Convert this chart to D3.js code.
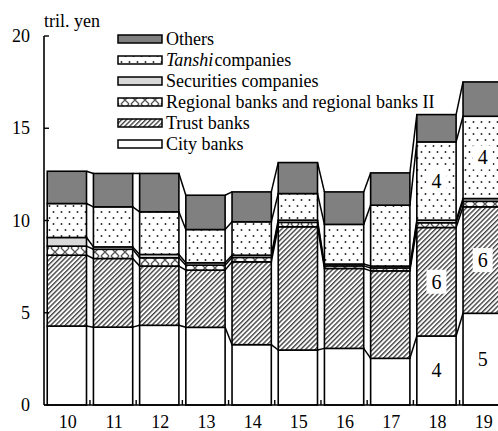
<!DOCTYPE html>
<html>
<head>
<meta charset="utf-8">
<script src="https://cdn.jsdelivr.net/npm/d3@7"></script>
<style>
  html, body { margin: 0; padding: 0; background: #fff; }
  svg { display: block; }
  svg text { font-family: "Liberation Serif", "Tinos", "DejaVu Serif", serif; }
</style>
</head>
<body>
<svg id="chart" width="498" height="431"></svg>
<script>
// fiscal years
const categories = ["10", "11", "12", "13", "14", "15", "16", "17", "18", "19"];

// tril. yen
const cityBanks = [4.28, 4.22, 4.32, 4.21, 3.27, 2.98, 3.07, 2.53, 3.74, 4.97];
const trustBanks = [3.84, 3.72, 3.21, 3.10, 4.49, 6.68, 4.33, 4.74, 5.88, 5.77];
const regionalBanks = [0.49, 0.50, 0.45, 0.27, 0.24, 0.24, 0.14, 0.16, 0.26, 0.30];
const securities = [0.47, 0.13, 0.18, 0.13, 0.12, 0.12, 0.10, 0.10, 0.14, 0.15];
const tanshi = [1.84, 2.17, 2.31, 1.80, 1.81, 1.44, 2.15, 3.30, 4.24, 4.46];
const others = [1.75, 1.81, 2.08, 1.86, 1.62, 1.68, 1.76, 1.75, 1.48, 1.86];

const yTicks = [0, 5, 10, 15, 20];

// numbers printed inside some bars
const barNotes = [
  { cat: "18", key: "city", text: "4" },
  { cat: "18", key: "trust", text: "6" },
  { cat: "18", key: "tanshi", text: "4" },
  { cat: "19", key: "city", text: "5" },
  { cat: "19", key: "trust", text: "6" },
  { cat: "19", key: "tanshi", text: "4" },
];

const keys = ["city", "trust", "regional", "securities", "tanshi", "others"];
const series = { city: cityBanks, trust: trustBanks, regional: regionalBanks,
  securities: securities, tanshi: tanshi, others: others };

const rows = categories.map((c, i) => {
  const r = { cat: c };
  keys.forEach((k) => (r[k] = series[k][i]));
  return r;
});

const FILLS = {
  city: "#ffffff",
  trust: "url(#hatch)",
  regional: "url(#cross)",
  securities: "#d9d9d9",
  tanshi: "url(#dots)",
  others: "#808080",
};

const FONT = "'Liberation Serif', Tinos, 'DejaVu Serif', serif";

const svg = d3.select("#chart");
const defs = svg.append("defs");

// Diagonal hatch
const hatch = defs.append("pattern")
  .attr("id", "hatch")
  .attr("patternUnits", "userSpaceOnUse")
  .attr("width", 3.4).attr("height", 3.4)
  .attr("patternTransform", "rotate(45)");
hatch.append("rect").attr("width", 3.4).attr("height", 3.4).attr("fill", "#fff");
hatch.append("line").attr("x1", 0.7).attr("y1", 0).attr("x2", 0.7).attr("y2", 3.4)
  .attr("stroke", "#333").attr("stroke-width", 1.3);

// Crosses
const cross = defs.append("pattern")
  .attr("id", "cross")
  .attr("patternUnits", "userSpaceOnUse")
  .attr("width", 10).attr("height", 8);
cross.append("rect").attr("width", 10).attr("height", 8).attr("fill", "#fff");
cross.append("path").attr("d", "M1,0L9,8M9,0L1,8")
  .attr("stroke", "#555").attr("stroke-width", 1.3);

// Dots
const dots = defs.append("pattern")
  .attr("id", "dots")
  .attr("patternUnits", "userSpaceOnUse")
  .attr("width", 8).attr("height", 12);
dots.append("rect").attr("width", 8).attr("height", 12).attr("fill", "#fff");
dots.append("circle").attr("cx", 1.5).attr("cy", 2).attr("r", 0.95).attr("fill", "#222");
dots.append("circle").attr("cx", 5.5).attr("cy", 8).attr("r", 0.95).attr("fill", "#222");

// Scales
const step = 46.2;
const x = d3.scaleBand()
  .domain(categories)
  .range([44, 44 + step * (categories.length - 0.15 + 0.14)])
  .paddingInner(0.15)
  .paddingOuter(0.07);

const y = d3.scaleLinear().domain([0, 20]).range([405, 36]);

const stacked = d3.stack().keys(keys)(rows);
const bw = x.bandwidth();

// Connector lines between bars
const g = svg.append("g");
stacked.forEach((layer) => {
  for (let i = 0; i < categories.length - 1; i++) {
    g.append("line")
      .attr("x1", x(categories[i]) + bw)
      .attr("y1", y(layer[i][1]))
      .attr("x2", x(categories[i + 1]))
      .attr("y2", y(layer[i + 1][1]))
      .attr("stroke", "#000")
      .attr("stroke-width", 1.5);
  }
});

// Bars
stacked.forEach((layer) => {
  g.append("g")
    .selectAll("rect")
    .data(layer)
    .join("rect")
    .attr("x", (d) => x(d.data.cat))
    .attr("y", (d) => y(d[1]))
    .attr("width", bw)
    .attr("height", (d) => y(d[0]) - y(d[1]))
    .attr("fill", FILLS[layer.key])
    .attr("stroke", "#000")
    .attr("stroke-width", 1.6);
});

// Numbers in bars
barNotes.forEach((n) => {
  const layer = stacked.find((s) => s.key === n.key);
  const d = layer[categories.indexOf(n.cat)];
  const cx = x(n.cat) + bw / 2;
  const cy = y((d[0] + d[1]) / 2);
  g.append("rect")
    .attr("x", cx - 10).attr("y", cy - 12)
    .attr("width", 20).attr("height", 24)
    .attr("fill", "#fff");
  g.append("text")
    .attr("x", cx).attr("y", cy)
    .attr("dy", "0.35em")
    .attr("text-anchor", "middle")
    .attr("font-family", FONT)
    .attr("font-size", 20)
    .text(n.text);
});

// Y axis
const yAxis = svg.append("g");
yAxis.append("line")
  .attr("x1", 44).attr("x2", 44)
  .attr("y1", y(0)).attr("y2", y(20))
  .attr("stroke", "#000").attr("stroke-width", 1.6);
yAxis.selectAll(".tick")
  .data(yTicks)
  .join("line")
  .attr("x1", 44).attr("x2", 49)
  .attr("y1", (d) => y(d)).attr("y2", (d) => y(d))
  .attr("stroke", "#000").attr("stroke-width", 1.4);
yAxis.selectAll("text")
  .data(yTicks)
  .join("text")
  .attr("x", 30)
  .attr("y", (d) => y(d))
  .attr("dy", "0.34em")
  .attr("text-anchor", "end")
  .attr("font-family", FONT)
  .attr("font-size", 18)
  .text((d) => d);

svg.append("text")
  .attr("x", 44).attr("y", 27)
  .attr("font-family", FONT)
  .attr("font-size", 18)
  .text("tril. yen");

// X axis
const xAxis = svg.append("g");
xAxis.append("line")
  .attr("x1", 44).attr("x2", 498)
  .attr("y1", y(0)).attr("y2", y(0))
  .attr("stroke", "#000").attr("stroke-width", 1.6);
xAxis.selectAll(".tick")
  .data(categories.slice(1))
  .join("line")
  .attr("x1", (d) => x(d) - (step - bw) / 2)
  .attr("x2", (d) => x(d) - (step - bw) / 2)
  .attr("y1", y(0)).attr("y2", y(0) - 5)
  .attr("stroke", "#000").attr("stroke-width", 1.4);
xAxis.selectAll("text")
  .data(categories)
  .join("text")
  .attr("x", (d) => x(d) + bw / 2 + 1)
  .attr("y", 428)
  .attr("text-anchor", "middle")
  .attr("font-family", FONT)
  .attr("font-size", 18)
  .text((d) => d);

// Legend
const legendItems = [
  { key: "others", label: "Others" },
  { key: "tanshi", label: "companies", italic: "Tanshi" },
  { key: "securities", label: "Securities companies" },
  { key: "regional", label: "Regional banks and regional banks II" },
  { key: "trust", label: "Trust banks" },
  { key: "city", label: "City banks" },
];
const legend = svg.append("g");
legendItems.forEach((item, i) => {
  const cy = 39 + i * 21;
  legend.append("rect")
    .attr("x", 118).attr("y", cy - 4)
    .attr("width", 44).attr("height", 8)
    .attr("fill", FILLS[item.key])
    .attr("stroke", "#000").attr("stroke-width", 1.5);
  const t = legend.append("text")
    .attr("x", 166).attr("y", cy)
    .attr("dy", "0.34em")
    .attr("font-family", FONT)
    .attr("font-size", 18);
  if (item.italic) {
    t.append("tspan").attr("font-style", "italic").text(item.italic);
    t.append("tspan").attr("dx", 1).text(item.label);
  } else {
    t.text(item.label);
  }
});
</script>
</body>
</html>
